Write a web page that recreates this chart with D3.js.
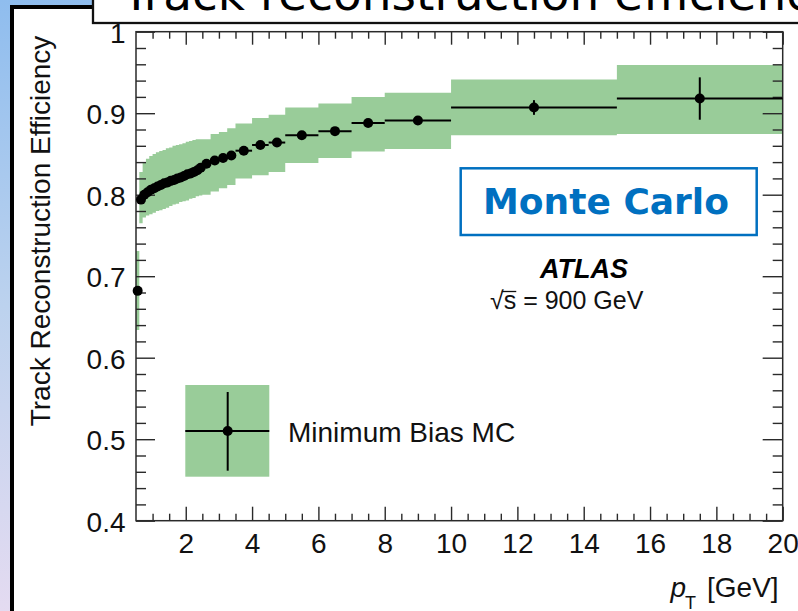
<!DOCTYPE html>
<html>
<head>
<meta charset="utf-8">
<script src="https://cdn.jsdelivr.net/npm/d3@7"></script>
<style>
  html, body { margin: 0; padding: 0; background: #fff; }
  svg { display: block; }
</style>
</head>
<body>
<svg id="chart" width="798" height="611"></svg>
<script>
// Track reconstruction efficiency vs pT, Minimum Bias MC, sqrt(s) = 900 GeV

// pT bin edges [GeV]
const binLow  = [0.5, 0.6, 0.7, 0.8, 0.9, 1.0, 1.1, 1.2, 1.3, 1.4, 1.5, 1.6, 1.7, 1.8, 1.9, 2.0, 2.1, 2.2, 2.3, 2.4,
                 2.5, 2.75, 3.0, 3.25, 3.5, 4.0, 4.5, 5, 6, 7, 8, 10, 15];
const binHigh = [0.6, 0.7, 0.8, 0.9, 1.0, 1.1, 1.2, 1.3, 1.4, 1.5, 1.6, 1.7, 1.8, 1.9, 2.0, 2.1, 2.2, 2.3, 2.4, 2.5,
                 2.75, 3.0, 3.25, 3.5, 4.0, 4.5, 5, 6, 7, 8, 10, 15, 20];

// efficiency per bin
const efficiency = [0.682, 0.794, 0.800, 0.803, 0.806, 0.808, 0.810, 0.812, 0.814, 0.815,
                    0.817, 0.818, 0.820, 0.821, 0.823, 0.825, 0.826, 0.828, 0.830, 0.833,
                    0.838, 0.842, 0.845, 0.848, 0.854, 0.861, 0.864, 0.873, 0.878, 0.888,
                    0.891, 0.907, 0.918];

// statistical uncertainty
const statError = [0.004, 0.002, 0.002, 0.002, 0.002, 0.002, 0.002, 0.002, 0.002, 0.002,
                   0.002, 0.002, 0.002, 0.002, 0.002, 0.002, 0.002, 0.002, 0.002, 0.002,
                   0.002, 0.002, 0.002, 0.002, 0.003, 0.003, 0.003, 0.003, 0.004, 0.004,
                   0.004, 0.009, 0.026];

// systematic band, lower and upper edge
const sysLow  = [0.634, 0.765, 0.772, 0.7745, 0.776, 0.778, 0.780, 0.781, 0.7825, 0.784,
                 0.786, 0.788, 0.789, 0.791, 0.792, 0.793, 0.795, 0.796, 0.798, 0.799,
                 0.800, 0.804, 0.808, 0.812, 0.820, 0.824, 0.828, 0.839, 0.845, 0.853,
                 0.856, 0.873, 0.8745];
const sysHigh = [0.731, 0.828, 0.840, 0.844, 0.8475, 0.850, 0.852, 0.8535, 0.855, 0.857,
                 0.858, 0.860, 0.861, 0.862, 0.863, 0.865, 0.866, 0.867, 0.868, 0.868,
                 0.868, 0.8745, 0.877, 0.8815, 0.8875, 0.894, 0.898, 0.907, 0.912, 0.920,
                 0.925, 0.9415, 0.959];

// axis ticks
const xMajorTicks = [2, 4, 6, 8, 10, 12, 14, 16, 18, 20];
const xMinorTicks = [1, 1.5, 2.5, 3, 3.5, 4.5, 5, 5.5, 6.5, 7, 7.5, 8.5, 9, 9.5, 10.5, 11, 11.5,
                     12.5, 13, 13.5, 14.5, 15, 15.5, 16.5, 17, 17.5, 18.5, 19, 19.5];
const yMajorTicks = [0.4, 0.5, 0.6, 0.7, 0.8, 0.9, 1];
const yMinorTicks = [0.42, 0.44, 0.46, 0.48, 0.52, 0.54, 0.56, 0.58, 0.62, 0.64, 0.66, 0.68,
                     0.72, 0.74, 0.76, 0.78, 0.82, 0.84, 0.86, 0.88, 0.92, 0.94, 0.96, 0.98];

const rows = binLow.map((lo, i) => ({
  lo, hi: binHigh[i], eff: efficiency[i], stat: statError[i], sLo: sysLow[i], sHi: sysHigh[i]
}));

const svg = d3.select("#chart");
const W = 798, H = 611;
const plot = { left: 136, right: 782.7, top: 31.7, bottom: 520.7 };

const x = d3.scaleLinear().domain([0.5, 20]).range([plot.left, plot.right]);
const y = d3.scaleLinear().domain([0.4, 1.0]).range([plot.bottom, plot.top]);

const labelFont = "'Liberation Sans', Arial, Helvetica, sans-serif";
const bandColor = "#99cc99";
const ink = "#000";
const frameColor = "#2a2a2a";

// slide background: blue edge and black border
const defs = svg.append("defs");
const grad = defs.append("linearGradient").attr("id", "edge").attr("x1", 0).attr("y1", 0).attr("x2", 0).attr("y2", 1);
grad.append("stop").attr("offset", "0%").attr("stop-color", "#8fbdee");
grad.append("stop").attr("offset", "50%").attr("stop-color", "#bcd2ee");
grad.append("stop").attr("offset", "100%").attr("stop-color", "#e4dbf1");
svg.append("rect").attr("width", W).attr("height", H).attr("fill", "url(#edge)");
svg.append("rect").attr("x", 12).attr("y", 7).attr("width", W - 12).attr("height", H - 7).attr("fill", "#fff");
svg.append("path").attr("d", "M12,611 V7 H94").attr("fill", "none").attr("stroke", "#000").attr("stroke-width", 4);

// systematic band as one stepped outline
const steps = rows.flatMap(d => [{ px: d.lo, lo: d.sLo, hi: d.sHi }, { px: d.hi, lo: d.sLo, hi: d.sHi }]);
svg.append("path")
  .datum(steps)
  .attr("d", d3.area().x(d => x(d.px)).y0(d => y(d.lo)).y1(d => y(d.hi)))
  .attr("fill", bandColor);

// axes with inward ticks
function styleAxis(g) {
  g.select(".domain").remove();
  g.selectAll(".tick line").attr("stroke", frameColor).attr("stroke-width", 1.4);
  g.selectAll("text").attr("font-family", labelFont).attr("font-size", 28).attr("fill", "#111");
}
svg.append("g").attr("transform", `translate(0,${plot.bottom})`)
  .call(d3.axisBottom(x).tickValues(xMajorTicks).tickSize(-14).tickPadding(12.5).tickFormat(d3.format("d")))
  .call(styleAxis);
svg.append("g").attr("transform", `translate(0,${plot.bottom})`)
  .call(d3.axisBottom(x).tickValues(xMinorTicks).tickSize(-7).tickFormat(""))
  .call(styleAxis);
svg.append("g").attr("transform", `translate(0,${plot.top})`)
  .call(d3.axisTop(x).tickValues(xMajorTicks).tickSize(-13).tickFormat(""))
  .call(styleAxis);
svg.append("g").attr("transform", `translate(0,${plot.top})`)
  .call(d3.axisTop(x).tickValues(xMinorTicks).tickSize(-7).tickFormat(""))
  .call(styleAxis);
svg.append("g").attr("transform", `translate(${plot.left},0)`)
  .call(d3.axisLeft(y).tickValues(yMajorTicks).tickSize(-19).tickPadding(10.5).tickFormat(d => d === 1 ? "1" : d3.format(".1f")(d)))
  .call(styleAxis)
  .call(g => g.selectAll("text").attr("dy", "0.38em"));
svg.append("g").attr("transform", `translate(${plot.left},0)`)
  .call(d3.axisLeft(y).tickValues(yMinorTicks).tickSize(-10).tickFormat(""))
  .call(styleAxis);
svg.append("g").attr("transform", `translate(${plot.right},0)`)
  .call(d3.axisRight(y).tickValues(yMajorTicks).tickSize(-20).tickFormat(""))
  .call(styleAxis);
svg.append("g").attr("transform", `translate(${plot.right},0)`)
  .call(d3.axisRight(y).tickValues(yMinorTicks).tickSize(-10).tickFormat(""))
  .call(styleAxis);

// frame
svg.append("rect")
  .attr("x", plot.left).attr("y", plot.top)
  .attr("width", plot.right - plot.left).attr("height", plot.bottom - plot.top)
  .attr("fill", "none").attr("stroke", frameColor).attr("stroke-width", 1.5);

// data points with bin width and statistical errors
const pts = svg.append("g");
pts.selectAll("line.h").data(rows).join("line").attr("class", "h")
  .attr("x1", d => x(d.lo)).attr("x2", d => x(d.hi))
  .attr("y1", d => y(d.eff)).attr("y2", d => y(d.eff))
  .attr("stroke", ink).attr("stroke-width", 2);
pts.selectAll("line.v").data(rows).join("line").attr("class", "v")
  .attr("x1", d => x((d.lo + d.hi) / 2)).attr("x2", d => x((d.lo + d.hi) / 2))
  .attr("y1", d => y(d.eff - d.stat)).attr("y2", d => y(d.eff + d.stat))
  .attr("stroke", ink).attr("stroke-width", 2);
pts.selectAll("circle").data(rows).join("circle")
  .attr("cx", d => x((d.lo + d.hi) / 2)).attr("cy", d => y(d.eff))
  .attr("r", 5).attr("fill", ink);

// legend
const leg = svg.append("g");
leg.append("rect").attr("x", 185.3).attr("y", 385).attr("width", 84).attr("height", 91.7).attr("fill", bandColor);
leg.append("line").attr("x1", 185.3).attr("x2", 269.3).attr("y1", 431).attr("y2", 431).attr("stroke", ink).attr("stroke-width", 2);
leg.append("line").attr("x1", 227.7).attr("x2", 227.7).attr("y1", 392).attr("y2", 470.7).attr("stroke", ink).attr("stroke-width", 2);
leg.append("circle").attr("cx", 227.7).attr("cy", 431).attr("r", 5).attr("fill", ink);
leg.append("text").attr("x", 288).attr("y", 441.7)
  .attr("font-family", labelFont).attr("font-size", 28).attr("fill", "#111")
  .text("Minimum Bias MC");

// Monte Carlo tag
svg.append("rect").attr("x", 460.7).attr("y", 168.3).attr("width", 296).attr("height", 66.7)
  .attr("fill", "#fff").attr("stroke", "#0070c0").attr("stroke-width", 2.5);
svg.append("text").attr("x", 606).attr("y", 214).attr("text-anchor", "middle")
  .attr("font-family", "'DejaVu Sans', Verdana, sans-serif").attr("font-weight", "bold")
  .attr("font-size", 36).attr("fill", "#0070c0").text("Monte Carlo");

// ATLAS label
svg.append("text").attr("x", 584).attr("y", 277.7).attr("text-anchor", "middle")
  .attr("font-family", labelFont).attr("font-weight", "bold").attr("font-style", "italic")
  .attr("font-size", 27).attr("fill", "#000").text("ATLAS");
const energy = svg.append("text").attr("x", 490).attr("y", 309.3)
  .attr("font-family", labelFont).attr("font-size", 25).attr("fill", "#111").text("\u221As = 900 GeV");
{
  const node = energy.node();
  const rootW = node.getSubStringLength(0, 1);
  const sW = node.getSubStringLength(1, 1);
  svg.append("line").attr("x1", 490 + rootW - 2).attr("x2", 490 + rootW + sW)
    .attr("y1", 291.5).attr("y2", 291.5).attr("stroke", "#111").attr("stroke-width", 1.3);
}

// axis titles
svg.append("text").attr("transform", "translate(50,231) rotate(-90)").attr("text-anchor", "middle")
  .attr("font-family", labelFont).attr("font-size", 28).attr("fill", "#111")
  .text("Track Reconstruction Efficiency");
const xt = svg.append("g").attr("font-family", labelFont).attr("fill", "#111");
xt.append("text").attr("x", 670.5).attr("y", 596.5).attr("font-size", 28).attr("font-style", "italic").text("p");
xt.append("text").attr("x", 685).attr("y", 609).attr("font-size", 18).text("T");
xt.append("text").attr("x", 707).attr("y", 596.5).attr("font-size", 28).text("[GeV]");

// slide title box
svg.append("rect").attr("x", 93).attr("y", -5).attr("width", W - 93 + 10).attr("height", 28)
  .attr("fill", "#fff").attr("stroke", "#111").attr("stroke-width", 2.3);
svg.append("text").attr("x", 122).attr("y", 10)
  .attr("font-family", "'DejaVu Sans', Verdana, sans-serif").attr("font-size", 47).attr("fill", "#000")
  .text("Track reconstruction efficiency");
</script>
</body>
</html>
